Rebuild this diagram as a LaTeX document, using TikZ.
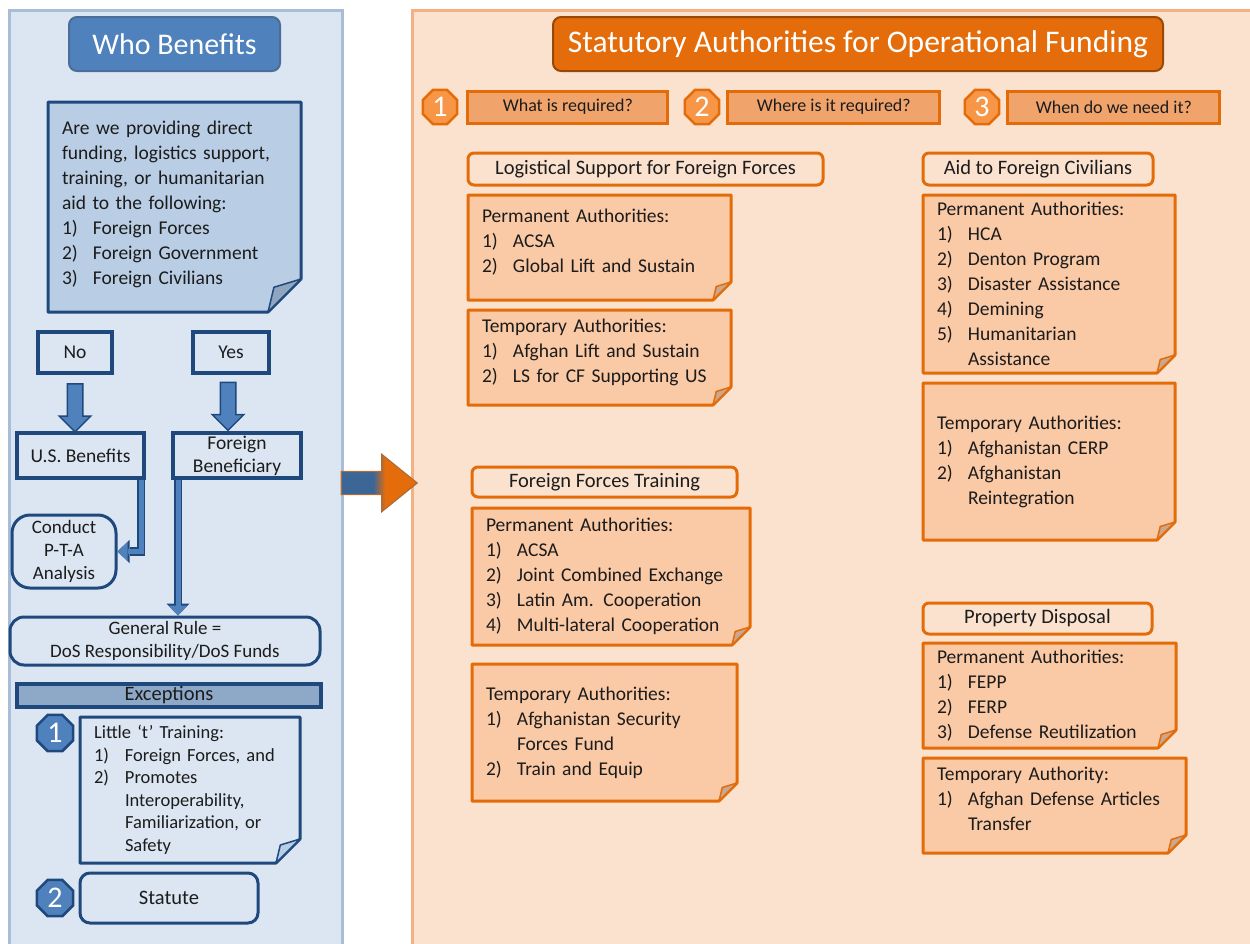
\documentclass[tikz,border=0pt]{standalone}
\usepackage{fontspec}
\setmainfont{Carlito}
\usepackage{tikz}
\usetikzlibrary{arrows.meta,positioning,shapes.geometric,shapes.arrows,backgrounds}

\definecolor{bluefill}{HTML}{DCE6F2}
\definecolor{blueedge}{HTML}{A7BDD8}
\definecolor{bluedark}{HTML}{1F497D}
\definecolor{bluemid}{HTML}{4F81BD}
\definecolor{bluearrow}{HTML}{3B6696}
\definecolor{blueq}{HTML}{B9CDE5}
\definecolor{blueexc}{HTML}{8EA8C8}
\definecolor{bluefold}{HTML}{8FA5C0}
\definecolor{orfill}{HTML}{FBE2CF}
\definecolor{oredge}{HTML}{F4B183}
\definecolor{ordark}{HTML}{E36C09}
\definecolor{ortitle}{HTML}{E46C0A}
\definecolor{orbrown}{HTML}{984807}
\definecolor{ornote}{HTML}{FAC9A5}
\definecolor{orlabel}{HTML}{F0A46C}
\definecolor{orbadge}{HTML}{F79646}
\definecolor{orfold}{HTML}{C9A892}
\definecolor{ink}{HTML}{1C1C1C}

\newcommand{\li}[2]{\mbox{\makebox[31pt][l]{#1)}#2}}
\newcommand{\cont}[1]{\mbox{\hspace*{31pt}#1}}
\newcommand{\notefold}[3]{%
  \begin{scope}[on background layer]
    \filldraw[#2note] (#1.north west) -- (#1.north east) -- ([yshift=#3]#1.south east)
      -- ([xshift=-#3]#1.south east) -- (#1.south west) -- cycle;
    \filldraw[#2fold] ([yshift=#3]#1.south east) -- ([xshift=-#3]#1.south east)
      -- ([xshift=-0.82*#3,yshift=0.75*#3]#1.south east) -- cycle;
  \end{scope}}

\begin{document}
\begin{tikzpicture}[
    x=1pt, y=-1pt,
    every node/.style={text=ink},
    titlebox/.style={rounded corners=8pt, line width=2pt, text=white, inner sep=0pt, font=\fontsize{30}{36}\selectfont},
    flowbox/.style={draw=bluedark, line width=4pt, inner sep=0pt, align=center, font=\fontsize{19.5}{23}\selectfont},
    roundbox/.style={draw=bluedark, line width=3pt, rounded corners=14pt, inner sep=0pt, align=center, font=\fontsize{19}{23}\selectfont},
    badge/.style={regular polygon, regular polygon sides=8, minimum size=39pt, inner sep=0pt, line width=2.5pt, text=white, font=\fontsize{30}{30}\selectfont},
    note/.style={inner xsep=14pt, inner ysep=0pt, outer sep=0pt, align=left, font=\fontsize{19.5}{25}\selectfont},
    bnote/.style={draw=bluedark, line width=3pt, line join=round, fill=blueq},
    bfold/.style={draw=bluedark, line width=1.5pt, line join=round, fill=bluefold},
    lnote/.style={bnote, fill=bluefill},
    lfold/.style={bfold, fill=blueq},
    onote/.style={draw=ordark, line width=3pt, line join=round, fill=ornote},
    ofold/.style={draw=ordark, line width=1.5pt, line join=round, fill=orfold},
    header/.style={draw=ordark, line width=3pt, rounded corners=6pt, inner sep=0pt, outer sep=0pt, font=\fontsize{20.5}{23}\selectfont},
    qlabel/.style={draw=ordark, line width=3pt, fill=orlabel, inner sep=0pt, minimum height=32pt, font=\fontsize{18}{20}\selectfont},
    downarrow/.style={single arrow, shape border rotate=270, draw=bluedark, fill=bluemid, line width=1.5pt, inner sep=7pt, single arrow head extend=8pt, minimum height=48pt},
    band/.style={draw=bluemid, line width=5pt, -{Triangle[length=10pt,width=19pt,line width=0pt]},
      preaction={draw=bluedark, line width=8.5pt, -{Triangle[length=12pt,width=23pt,line width=0pt]}}}
]
\useasboundingbox (0,0) rectangle (1250,943);
\begin{scope}[on background layer]
  \filldraw[draw=blueedge, fill=bluefill, line width=3pt] (9,10) rectangle (342,960);
  \filldraw[draw=oredge, fill=orfill, line width=3pt] (412,10) rectangle (1270,960);
\end{scope}

% who benefits
\node[titlebox, fill=bluemid, draw=bluedark!80, minimum width=211pt, minimum height=54pt] (wb) at (174.5,44) {Who Benefits};
\node[note, text width=225pt, minimum height=210pt, anchor=north west] (ask) at (48,102)
  {Are we providing direct\\funding, logistics support,\\training, or humanitarian\\aid to the following:\\\li{1}{Foreign Forces}\\\li{2}{Foreign Government}\\\li{3}{Foreign Civilians}\\[-17pt]\mbox{}};
\notefold{ask}{b}{33pt}

\node[flowbox, minimum width=74pt, minimum height=41pt] (no) at (75,352.5) {No};
\node[flowbox, minimum width=76pt, minimum height=41pt] (yes) at (231,352.5) {Yes};
\node[downarrow] (noarr) at (75,404) {};
\node[downarrow] (yesarr) at (228,402.5) {};
\node[flowbox, minimum width=127pt, minimum height=45pt] (usb) at (80.5,455.5) {U.S. Benefits};
\node[flowbox, minimum width=128pt, minimum height=45pt] (fb) at (237,455.5) {Foreign\\Beneficiary};
\node[roundbox, rounded corners=18pt, minimum width=104pt, minimum height=73pt] (pta) at (64,551.5) {Conduct\\P-T-A\\Analysis};
\node[roundbox, minimum width=310pt, minimum height=48pt] (gr) at (165,641) {General Rule =\\DoS Responsibility/DoS Funds};
\draw[band] ([xshift=-5pt]usb.south east) |- (pta.east);
\coordinate (fbx) at ([xshift=7pt]fb.south west);
\draw[band] (fbx) -- (fbx |- gr.north);

% exceptions
\node[flowbox, fill=blueexc, minimum width=304pt, minimum height=23pt, font=\fontsize{20.5}{23}\selectfont] (exc) at (169,695.5) {Exceptions};
\node[badge, fill=bluemid, draw=bluedark] (b1) at (55,733) {1};
\node[note, font=\fontsize{18.5}{22.5}\selectfont, text width=192pt, minimum height=146pt, anchor=north west] (lt) at (80,717)
  {Little ‘t’ Training:\\\li{1}{Foreign Forces, and}\\\li{2}{Promotes}\\\cont{Interoperability,}\\\cont{Familiarization, or}\\\cont{Safety}};
\notefold{lt}{l}{24pt}
\node[badge, fill=bluemid, draw=bluedark] (b2) at (55,898) {2};
\node[roundbox, rounded corners=10pt, minimum width=178pt, minimum height=50pt, font=\fontsize{20.5}{23}\selectfont] (st) at (169,898) {Statute};

\node[single arrow, minimum height=76pt, inner sep=11pt, single arrow head extend=17pt, single arrow tip angle=78,
  draw=orbrown!80, line width=1.2pt,
  path picture={
    \fill[bluearrow] (path picture bounding box.south west) rectangle ([xshift=-6pt]path picture bounding box.north);
    \shade[left color=bluearrow, right color=ortitle] ([xshift=-6pt]path picture bounding box.south) rectangle ([xshift=6pt]path picture bounding box.north);
    \fill[ortitle] ([xshift=6pt]path picture bounding box.south) rectangle (path picture bounding box.north east);
  }] (go) at (372,483) {};

% statutory authorities
\node[titlebox, fill=ortitle, draw=orbrown, minimum width=610pt, minimum height=54pt, font=\fontsize{31.5}{36}\selectfont] (sa) at (858,44) {Statutory Authorities for Operational Funding};
\node[badge, fill=orbadge, draw=ordark, minimum size=37pt] (o1) at (440,107) {1};
\node[qlabel, minimum width=200pt, right=8pt of o1] (q1) {What is required?};
\node[badge, fill=orbadge, draw=ordark, minimum size=37pt] (o2) at (702,107) {2};
\node[qlabel, minimum width=212pt, right=6pt of o2] (q2) {Where is it required?};
\node[badge, fill=orbadge, draw=ordark, minimum size=37pt] (o3) at (982,107) {3};
\node[qlabel, minimum width=212pt, right=6pt of o3] (q3) {When do we need it?};

\node[header, minimum width=355pt, minimum height=32pt] (lsh) at (645.5,169) {Logistical Support for Foreign Forces};
\node[note, text width=235pt, minimum height=105pt, below=10pt of lsh.south west, anchor=north west] (lsp)
  {Permanent Authorities:\\\li{1}{ACSA}\\\li{2}{Global Lift and Sustain}\\[-12pt]\mbox{}};
\notefold{lsp}{o}{18pt}
\node[note, text width=235pt, minimum height=95pt, below=10pt of lsp.south west, anchor=north west] (lst)
  {Temporary Authorities:\\\li{1}{Afghan Lift and Sustain}\\\li{2}{LS for CF Supporting US}\\[-12pt]\mbox{}};
\notefold{lst}{o}{18pt}

\node[header, minimum width=265pt, minimum height=30pt] (fth) at (604.5,482) {Foreign Forces Training};
\node[note, text width=250pt, minimum height=137pt, below=11pt of fth.south west, anchor=north west] (ffp)
  {Permanent Authorities:\\\li{1}{ACSA}\\\li{2}{Joint Combined Exchange}\\\li{3}{Latin Am. Cooperation}\\\li{4}{Multi-lateral Cooperation}};
\notefold{ffp}{o}{18pt}
\node[note, text width=237pt, minimum height=137pt, below=19pt of ffp.south west, anchor=north west] (fft)
  {Temporary Authorities:\\\li{1}{Afghanistan Security}\\\cont{Forces Fund}\\\li{2}{Train and Equip}};
\notefold{fft}{o}{18pt}

\node[header, minimum width=230pt, minimum height=32pt] (afh) at (1038,169) {Aid to Foreign Civilians};
\node[note, text width=224pt, minimum height=178pt, below=10pt of afh.south west, anchor=north west] (afp)
  {Permanent Authorities:\\\li{1}{HCA}\\\li{2}{Denton Program}\\\li{3}{Disaster Assistance}\\\li{4}{Demining}\\\li{5}{Humanitarian}\\\cont{Assistance}};
\notefold{afp}{o}{18pt}
\node[note, text width=224pt, minimum height=157pt, below=10pt of afp.south west, anchor=north west] (aft)
  {Temporary Authorities:\\\li{1}{Afghanistan CERP}\\\li{2}{Afghanistan}\\\cont{Reintegration}};
\notefold{aft}{o}{18pt}

\node[header, minimum width=229pt, minimum height=31pt] (pdh) at (1037.5,618.5) {Property Disposal};
\node[note, text width=225pt, minimum height=105pt, below=9pt of pdh.south west, anchor=north west] (pdp)
  {Permanent Authorities:\\\li{1}{FEPP}\\\li{2}{FERP}\\\li{3}{Defense Reutilization}};
\notefold{pdp}{o}{18pt}
\node[note, text width=235pt, minimum height=95pt, below=10pt of pdp.south west, anchor=north west] (pdt)
  {Temporary Authority:\\\li{1}{Afghan Defense Articles}\\\cont{Transfer}\\[-11pt]\mbox{}};
\notefold{pdt}{o}{18pt}
\end{tikzpicture}
\end{document}
